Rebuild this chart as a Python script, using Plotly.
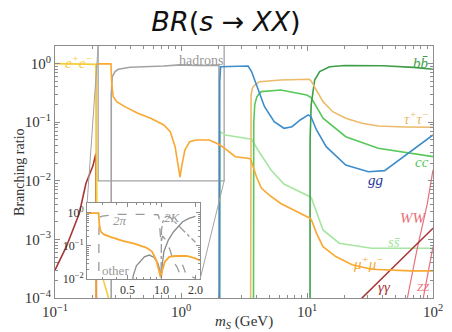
import numpy as np
import plotly.graph_objects as go

# ---------------- data ----------------
ee_x = [0.1, 0.15, 0.2, 0.211, 0.2115, 0.212, 0.215, 0.22, 0.23, 0.244, 0.266, 0.28, 0.3]
ee_y = [1.0, 0.995, 0.985, 0.97, 0.5, 0.04, 0.0037, 0.0011, 0.00038, 0.00019, 0.0001, 0.00008, 0.00002]

gam_x = [0.1, 0.123, 0.156, 0.176, 0.2, 0.211, 0.2115, 0.212, 0.213, 0.22, 20, 27.3, 40, 60, 100]
gam_y = [3.0e-4, 7.5e-4, 2.8e-3, 9.0e-3, 0.018, 0.029, 0.01, 1e-3, 1e-4, 3e-5, 5.2e-5, 1.0e-4, 2.25e-4, 5.3e-4, 1.55e-3]

mu_x = [0.2113, 0.2118, 0.213, 0.216, 0.22, 0.25, 0.278, 0.282, 0.29, 0.309, 0.358, 0.454, 0.575,
        0.731, 0.822, 0.898, 0.954, 0.982, 1.012, 1.073, 1.173, 1.322, 1.675, 1.945, 2.0, 2.32,
        2.70, 3.41, 3.55, 3.63, 3.97, 4.34, 5.02, 6.19, 7.84, 10.56, 10.86, 11.9, 13.4, 16.9,
        22.8, 32.6, 66.4, 100]
mu_y = [1e-6, 0.5, 0.9, 0.97, 0.99, 0.99, 0.99, 0.45, 0.272, 0.224, 0.184, 0.142, 0.117,
        0.0896, 0.0689, 0.0382, 0.0174, 0.0115, 0.0174, 0.0335, 0.0465, 0.0497, 0.0497, 0.0436, 0.042, 0.0335,
        0.0258, 0.0242, 0.0235, 0.0212, 0.0117, 0.0075, 0.0057, 0.0041, 0.0032, 0.0023, 0.00214, 0.00127, 7.5e-4, 5.1e-4,
        3.7e-4, 3.1e-4, 2.9e-4, 2.9e-4]

had_x = [0.279, 0.2795, 0.285, 0.3, 0.318, 0.394, 0.731, 0.98, 1.32, 1.9, 2.0, 2.0005]
had_y = [1e-6, 0.3, 0.6, 0.728, 0.80, 0.865, 0.91, 0.95, 0.93, 0.93, 0.94, 1e-6]

gg_x = [2.02, 2.03, 2.063, 3.0, 3.41, 3.63, 4.08, 4.60, 5.49, 6.56, 7.61, 8.83, 10.24, 10.6,
        10.75, 11.9, 14.2, 20.3, 30.7, 41.3, 58.9, 100]
gg_y = [1e-6, 0.5, 0.885, 0.9, 0.91, 0.73, 0.354, 0.184, 0.102, 0.0787, 0.0838, 0.109, 0.133, 0.128,
        0.124, 0.0736, 0.0382, 0.0186, 0.0143, 0.0149, 0.0258, 0.0605]

ss_x = [2.03, 2.04, 2.25, 3.41, 3.63, 4.08, 5.18, 6.56, 10.56, 10.86, 13.4, 18.0, 32.6, 100]
ss_y = [1e-6, 0.0689, 0.0605, 0.0531, 0.051, 0.0335, 0.0153, 0.0088, 0.00536, 0.00503, 0.00145, 8.6e-4, 7.05e-4, 7.05e-4]

tau_x = [3.554, 3.556, 3.6, 3.7, 3.85, 4.2, 6.19, 10.24, 10.56, 10.86, 11.9, 13.4, 16.0, 20.3, 27.3, 36.7, 60, 100]
tau_y = [1e-6, 0.1, 0.3, 0.39, 0.431, 0.491, 0.525, 0.54, 0.53, 0.491, 0.354, 0.224, 0.151, 0.117, 0.0958, 0.0861, 0.083, 0.0818]

cc_x = [3.75, 3.755, 3.78, 3.85, 4.0, 4.2, 4.34, 6.19, 9.94, 10.56, 10.86, 13.4, 20.3, 36.7, 100]
cc_y = [1e-6, 0.02, 0.1, 0.2, 0.27, 0.311, 0.332, 0.354, 0.291, 0.27, 0.256, 0.117, 0.0566, 0.0359, 0.0258]

bb_x = [10.56, 10.58, 10.8, 11.5, 12.6, 15.1, 20, 40, 70, 100]
bb_y = [1e-6, 0.05, 0.2, 0.525, 0.728, 0.885, 0.93, 0.92, 0.86, 0.80]

ww_x = [62.6, 75, 90, 100]
ww_y = [1e-4, 7e-4, 4e-3, 0.0153]

zz_x = [83.7, 92, 100]
zz_y = [1e-4, 3e-4, 7.5e-4]

# inset (hadronic channels)
pipi_x = [0.279, 0.2795, 0.285, 0.3, 0.4, 0.6, 0.8, 0.93, 0.95, 0.97, 0.99, 1.02, 1.1, 1.2, 1.28,
          1.37, 1.45, 1.54, 1.66, 1.83, 1.96, 2.0]
pipi_y = [0.005, 0.3, 0.75, 0.8, 0.9, 0.92, 0.9, 0.88, 0.75, 0.3, 0.12, 0.2, 0.15, 0.07, 0.033,
          0.0234, 0.0148, 0.0264, 0.0131, 0.012, 0.0107, 0.0105]
kk_x = [0.99, 0.995, 1.0, 1.03, 1.08, 1.13, 1.2, 1.3, 1.5, 1.75, 2.0]
kk_y = [0.005, 0.1, 0.3, 0.55, 0.75, 0.8, 0.72, 0.55, 0.33, 0.2, 0.13]
oth_x = [0.558, 0.56, 0.6, 0.706, 0.78, 0.86, 0.93, 0.97, 0.99, 1.0, 1.02, 1.05, 1.15, 1.28,
         1.54, 1.75, 1.96, 2.0]
oth_y = [0.005, 0.012, 0.025, 0.047, 0.053, 0.045, 0.03, 0.018, 0.011, 0.012, 0.03, 0.067, 0.15,
         0.27, 0.54, 0.68, 0.77, 0.78]

# zoom box (main axes) = inset ranges
box_x = [0.22, 2.2]
box_y = [0.01, 2.0]

main_xticks = [0.1, 1, 10, 100]
main_xtext = ["10<sup>−1</sup>", "10<sup>0</sup>", "10<sup>1</sup>", "10<sup>2</sup>"]
main_yticks = [1e-4, 1e-3, 1e-2, 1e-1, 1]
main_ytext = ["10<sup>−4</sup>", "10<sup>−3</sup>", "10<sup>−2</sup>", "10<sup>−1</sup>", "10<sup>0</sup>"]
ins_xticks = [0.5, 1.0, 2.0]
ins_xtext = ["0.5", "1.0", "2.0"]
ins_yticks = [0.01, 0.1, 1]
ins_ytext = ["10<sup>−2</sup>", "10<sup>−1</sup>", "10<sup>0</sup>"]

# ---------------- styling ----------------
C_EE = "#F5CC3A"
C_MU = "#F9A830"
C_TAU = "#EBBA6A"
C_GAM = "#A93636"
C_W = "#E8707A"
C_GG = "#3E8DCB"
C_BB = "#3E9E48"
C_CC = "#58C85A"
C_SS = "#A6E6A0"
C_HAD = "#A3A3A3"
FRAME = "#8c8c8c"
SERIF = "Liberation Serif"

fig = go.Figure()


def add(x, y, color, width=1.6, dash="solid", inset=False):
    fig.add_trace(go.Scatter(
        x=x, y=y, mode="lines", line=dict(color=color, width=width, dash=dash),
        xaxis="x2" if inset else "x", yaxis="y2" if inset else "y",
        showlegend=False, hoverinfo="skip"))


# zoom box
add([box_x[0], box_x[0], box_x[1], box_x[1]], [box_y[1], box_y[0], box_y[0], box_y[1]], C_HAD, 1.3)
# main curves
add(had_x, had_y, C_HAD)
add(ss_x, ss_y, C_SS)
add(cc_x, cc_y, C_CC)
add(bb_x, bb_y, C_BB)
add(tau_x, tau_y, C_TAU)
add(gg_x, gg_y, C_GG)
add(ww_x, ww_y, C_W, 1.2)
add(zz_x, zz_y, C_W, 1.2)
add(gam_x, gam_y, C_GAM)
add(mu_x, mu_y, C_MU)
add(ee_x, ee_y, C_EE)
# inset curves
add(pipi_x, pipi_y, "#9a9a9a", 1.3, "dash", True)
add(kk_x, kk_y, "#9a9a9a", 1.3, "dashdot", True)
add(oth_x, oth_y, "#8a8a8a", 1.3, "solid", True)
add(mu_x, mu_y, C_MU, 1.8, "solid", True)

W, H = 452, 332
ML, MR, MT, MB = 55, 9, 46, 34
ins_dx = [(88 - ML) / (W - ML - MR), (204 - ML) / (W - ML - MR)]
ins_dy = [(H - MB - 279) / (H - MT - MB), (H - MB - 203) / (H - MT - MB)]


def minor_vals(lo, hi):
    return [m * 10.0 ** k for k in range(lo, hi) for m in range(2, 10)]


axis_common = dict(type="log", showgrid=False, zeroline=False, showline=True, linecolor=FRAME,
                   linewidth=1, mirror="allticks", ticks="inside", tickcolor=FRAME,
                   ticklabeloverflow="allow",
                   tickfont=dict(family=SERIF, size=15, color="#333"))

xr = [-1, 2]
yr = [-4, 0.3]
fig.update_layout(
    width=W, height=H, margin=dict(l=ML, r=MR, t=MT, b=MB),
    paper_bgcolor="white", plot_bgcolor="white",
    title=dict(text="<i>BR</i>(<i>s</i> → <i>XX</i>)", x=0.5, xref="container", xanchor="center",
               y=1 - 22 / H, yanchor="middle",
               font=dict(family="DejaVu Sans", size=27, color="#111")),
    xaxis=dict(**axis_common, range=xr, domain=[0, 1], anchor="y", ticklen=5,
               tickvals=main_xticks, ticktext=main_xtext,
               minor=dict(ticks="inside", ticklen=3, tickcolor=FRAME, tickvals=minor_vals(-1, 2))),
    yaxis=dict(**axis_common, range=yr, domain=[0, 1], anchor="x", ticklen=5,
               tickvals=main_yticks, ticktext=main_ytext,
               minor=dict(ticks="inside", ticklen=3, tickcolor=FRAME, tickvals=minor_vals(-4, 0))),
)
ins_common = dict(axis_common)
ins_common["tickfont"] = dict(family=SERIF, size=12, color="#333")
fig.update_layout(
    xaxis2=dict(**ins_common, range=[np.log10(box_x[0]), np.log10(box_x[1])], domain=ins_dx,
                anchor="y2", ticklen=4, tickvals=ins_xticks, ticktext=ins_xtext,
                minor=dict(ticks="inside", ticklen=2, tickcolor=FRAME,
                           tickvals=[0.3, 0.4, 0.6, 0.7, 0.8, 0.9])),
    yaxis2=dict(**ins_common, range=[np.log10(box_y[0]), 0.3], domain=ins_dy, anchor="x2",
                ticklen=4, tickvals=ins_yticks, ticktext=ins_ytext,
                minor=dict(ticks="inside", ticklen=2, tickcolor=FRAME, tickvals=minor_vals(-2, 0))),
)


# connector lines between zoom box and inset (paper coordinates)
def px_main(v):
    return (np.log10(v) - xr[0]) / (xr[1] - xr[0])


def py_main(v):
    return (np.log10(v) - yr[0]) / (yr[1] - yr[0])


fig.add_shape(type="line", xref="paper", yref="paper", x0=px_main(box_x[0]), y0=1.0,
              x1=ins_dx[0], y1=ins_dy[1], line=dict(color=C_HAD, width=1))
fig.add_shape(type="line", xref="paper", yref="paper", x0=px_main(box_x[1]), y0=py_main(box_y[0]),
              x1=ins_dx[1], y1=ins_dy[0], line=dict(color=C_HAD, width=1))


def lab(text, x, y, color, size=15, xanchor="center", inset=False, italic=True):
    fig.add_annotation(text=f"<i>{text}</i>" if italic else text,
                       x=np.log10(x), y=np.log10(y),
                       xref="x2" if inset else "x", yref="y2" if inset else "y",
                       showarrow=False, xanchor=xanchor, yanchor="middle",
                       font=dict(family=SERIF, size=size, color=color))


lab("e<sup>+</sup>e<sup>−</sup>", 0.156, 1.06, C_EE)
lab("hadrons", 1.45, 1.15, "#999", 14, italic=False)
lab("bb̄", 96, 1.02, C_BB, xanchor="right")
lab("τ<sup>+</sup>τ<sup>−</sup>", 96, 0.118, C_TAU, xanchor="right")
lab("cc", 96, 0.021, C_CC, xanchor="right")
lab("gg", 35.6, 0.0103, "#2A3A9A")
lab("WW", 70, 2.3e-3, C_W)
lab("ss̄", 49.1, 9.0e-4, C_SS)
lab("μ<sup>+</sup>μ<sup>−</sup>", 30.3, 3.96e-4, C_MU)
lab("γγ", 41.1, 1.54e-4, C_GAM)
lab("ZZ", 99, 1.54e-4, C_W, 11, xanchor="right")
lab("2π", 0.432, 0.61, "#999", 13, inset=True)
lab("2K", 1.26, 0.75, "#999", 13, inset=True)
lab("other", 0.391, 0.0186, "#999", 13, inset=True, italic=False)

# axis titles
fig.add_annotation(text="Branching ratio", xref="paper", yref="paper", x=-37 / 388, y=0.5,
                   textangle=-90, showarrow=False, xanchor="center", yanchor="middle",
                   font=dict(family=SERIF, size=14, color="#333"))
fig.add_annotation(text="<i>m<sub>S</sub></i> (GeV)", xref="paper", yref="paper", x=0.5,
                   y=-24 / 252, showarrow=False, xanchor="center", yanchor="middle",
                   font=dict(family=SERIF, size=15, color="#333"))

fig.write_html("out.html")
